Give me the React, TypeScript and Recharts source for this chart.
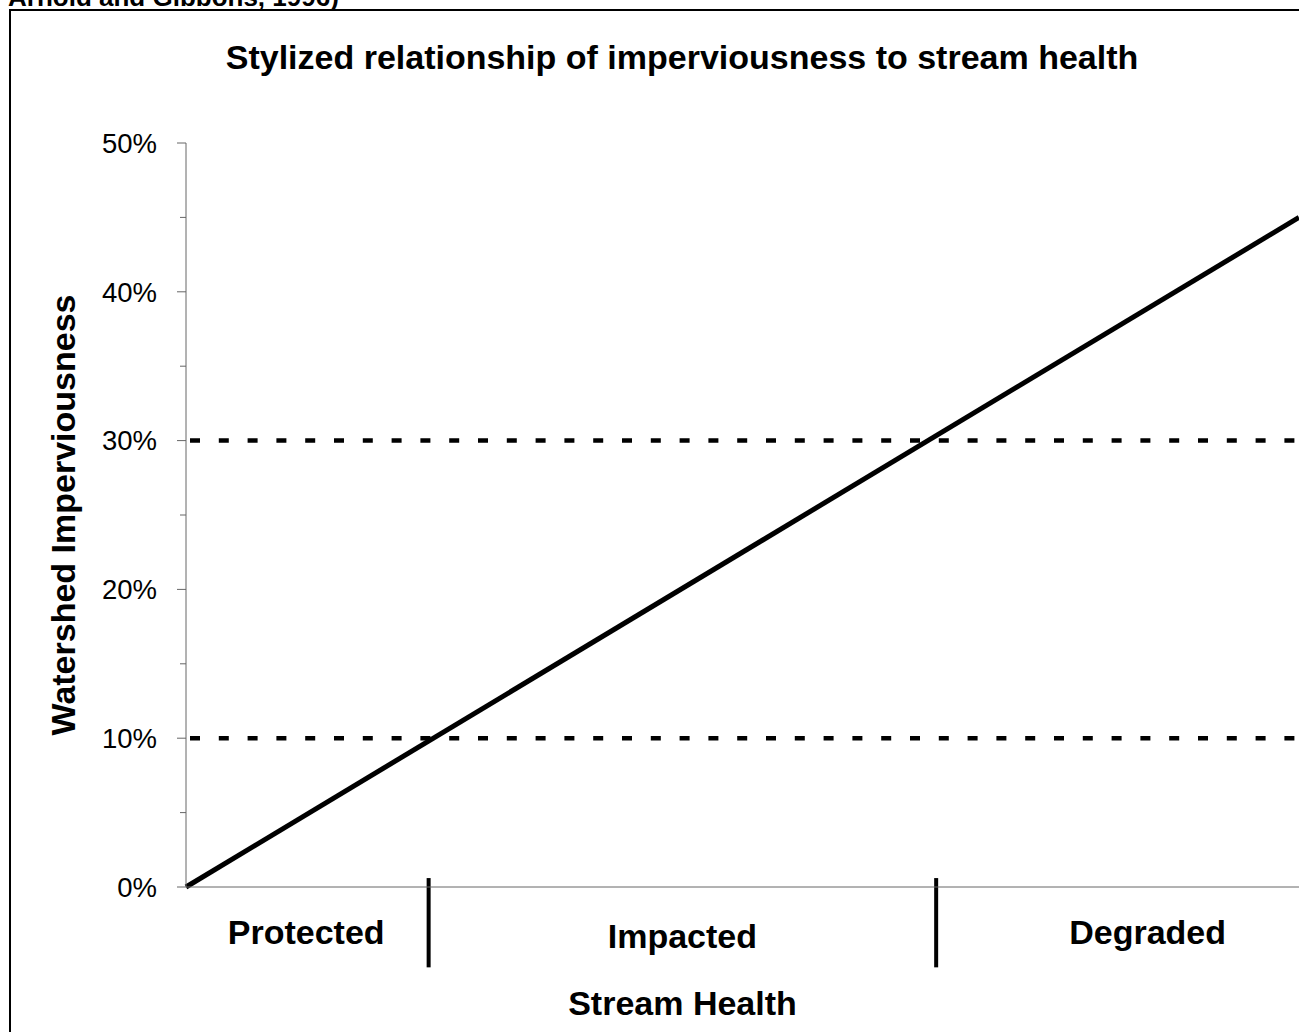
import React from "react";
import {
  LineChart,
  Line,
  XAxis,
  YAxis,
  ReferenceLine,
  Label,
} from "recharts";

// stylized relationship: imperviousness rises linearly with degradation
const linePoints = [
  { health: 0, imperv: 0 },
  { health: 100, imperv: 45 },
];

// thresholds between stream health classes (% imperviousness)
const thresholds = [10, 30];

// class boundaries along the stream health axis
const boundaries = [21.8, 67.4];

// class names and where each name sits on the stream health axis
const categories = ["Protected", "Impacted", "Degraded"];
const categoryCenters = [10.8, 44.6, 86.4];

const yTicks = [0, 5, 10, 15, 20, 25, 30, 35, 40, 45, 50];

const FONT = "'Liberation Sans', Arial, Helvetica, sans-serif";

const YTick = (props: any) => {
  const { x, y, payload } = props;
  const v = payload.value;
  const major = v % 10 === 0;
  // x is the label anchor; axis line sits tickMargin + tickSize to the right
  const axisX = x + 20 + 9;
  return (
    <g>
      <line
        x1={axisX - (major ? 9 : 6)}
        x2={axisX}
        y1={y}
        y2={y}
        stroke="#666"
        strokeWidth={1}
      />
      {major && (
        <text
          x={x}
          y={y}
          dy="0.355em"
          textAnchor="end"
          fontFamily={FONT}
          fontSize={27.5}
          fill="#000"
        >
          {`${v}%`}
        </text>
      )}
    </g>
  );
};

const XTick = (props: any) => {
  const { x, y, index } = props;
  // "Impacted" sits a little lower in the original
  const shift = index === 1 ? 4 : 0;
  return (
    <text
      x={x}
      y={y + shift}
      textAnchor="middle"
      fontFamily={FONT}
      fontWeight="bold"
      fontSize={34}
      fill="#000"
    >
      {categories[index]}
    </text>
  );
};

export default function App() {
  return (
    <div
      style={{
        position: "fixed",
        left: 0,
        top: 0,
        width: 1299,
        height: 1032,
        overflow: "hidden",
        background: "#fff",
        fontFamily: FONT,
      }}
    >
      {/* clipped caption from the page above */}
      <div
        style={{
          position: "absolute",
          left: 8,
          top: -16,
          fontSize: 26,
          lineHeight: "26px",
          fontWeight: "bold",
          whiteSpace: "nowrap",
        }}
      >
        Arnold and Gibbons, 1996)
      </div>

      {/* outer frame, right and bottom edges run off the page */}
      <div
        style={{
          position: "absolute",
          left: 9,
          top: 9,
          width: 1400,
          height: 1100,
          border: "2px solid #000",
        }}
      />

      <div
        style={{
          position: "absolute",
          left: 182,
          top: 40,
          width: 1000,
          textAlign: "center",
          fontSize: 34,
          lineHeight: "34px",
          fontWeight: "bold",
          whiteSpace: "nowrap",
        }}
      >
        Stylized relationship of imperviousness to stream health
      </div>

      <div style={{ position: "absolute", left: 0, top: 0 }}>
        <LineChart
          width={1299}
          height={1032}
          data={linePoints}
          margin={{ top: 143, right: 0, bottom: 0, left: 0 }}
        >
          <XAxis
            type="number"
            dataKey="health"
            domain={[0, 100]}
            ticks={categoryCenters}
            interval={0}
            height={145}
            stroke="#666"
            tickLine={false}
            tickSize={0}
            tickMargin={57}
            tick={<XTick />}
          >
            <Label
              value="Stream Health"
              position="insideBottom"
              offset={17}
              dx={-60}
              style={{
                fontFamily: FONT,
                fontWeight: "bold",
                fontSize: 34,
                fill: "#000",
              }}
            />
          </XAxis>
          <YAxis
            type="number"
            domain={[0, 50]}
            ticks={yTicks}
            interval={0}
            width={186}
            stroke="#666"
            tickLine={false}
            tickSize={9}
            tickMargin={20}
            tick={<YTick />}
          >
            <Label
              value="Watershed Imperviousness"
              angle={-90}
              position="insideLeft"
              offset={63}
              style={{
                fontFamily: FONT,
                fontWeight: "bold",
                fontSize: 34,
                fill: "#000",
                textAnchor: "middle",
              }}
            />
          </YAxis>

          {thresholds.map((t) => (
            <ReferenceLine
              key={`th-${t}`}
              y={t}
              stroke="#000"
              strokeWidth={4.5}
              strokeDasharray="10 18.8"
              strokeDashoffset={-4}
            />
          ))}

          {boundaries.map((b) => (
            <ReferenceLine
              key={`b-${b}`}
              segment={[
                { x: b, y: -5.4 },
                { x: b, y: 0.6 },
              ]}
              ifOverflow="visible"
              stroke="#000"
              strokeWidth={4}
            />
          ))}

          <Line
            type="linear"
            dataKey="imperv"
            stroke="#000"
            strokeWidth={5}
            dot={false}
            activeDot={false}
            isAnimationActive={false}
          />
        </LineChart>
      </div>
    </div>
  );
}
